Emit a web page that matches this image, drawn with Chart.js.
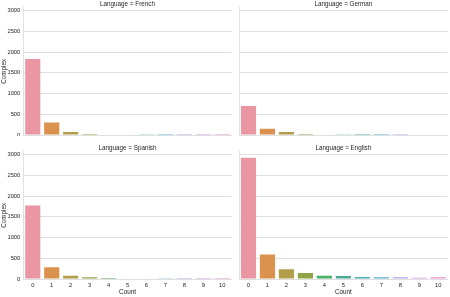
<!DOCTYPE html>
<html lang="en">
<head>
    <meta charset="UTF-8">
    <title>Complex by Count and Language</title>
    <script src="https://cdn.jsdelivr.net/npm/chart.js"></script>
    <style>
        body { margin: 0; background: #fff; }
        .panel { position: absolute; }
    </style>
</head>
<body>
    <canvas id="french" class="panel" width="232" height="136" style="left:0;top:0"></canvas>
    <canvas id="german" class="panel" width="212" height="136" style="left:238px;top:0"></canvas>
    <canvas id="spanish" class="panel" width="232" height="153" style="left:0;top:144px"></canvas>
    <canvas id="english" class="panel" width="212" height="153" style="left:238px;top:144px"></canvas>

    <script>
        // Data (Complex count per Count value)
        const counts = ['0', '1', '2', '3', '4', '5', '6', '7', '8', '9', '10'];
        const yTicks = [0, 500, 1000, 1500, 2000, 2500, 3000];
        const french = [1830, 300, 75, 25, 12, 10, 4, 2, 1, 1, 1];
        const german = [700, 150, 70, 25, 10, 4, 2, 1, 1, 0, 0];
        const spanish = [1770, 285, 80, 45, 25, 15, 10, 4, 2, 1, 1];
        const english = [2925, 590, 235, 145, 80, 70, 50, 45, 40, 30, 40];

        const textColor = '#262626';
        const lineColor = '#e0e0e0';
        const font = 'Liberation Sans, Arial, sans-serif';

        // seaborn husl palette (l=.7) desaturated to .75
        function huslToRgb(h, s, l) {
            const m = [[3.240969941904521, -1.537383177570093, -0.498610760293],
                       [-0.96924363628087, 1.87596750150772, 0.041555057407175],
                       [0.055630079696993, -0.20397695888897, 1.056971514242878]];
            const refU = 0.19783000664283, refV = 0.46831999493879;
            const kappa = 903.2962962, eps = 0.0088564516;
            const sub1 = Math.pow(l + 16, 3) / 1560896;
            const sub2 = sub1 > eps ? sub1 : l / kappa;
            const hr = h / 360 * 2 * Math.PI;
            let maxC = Infinity;
            m.forEach(([m1, m2, m3]) => {
                [0, 1].forEach(t => {
                    const top1 = (284517 * m1 - 94839 * m3) * sub2;
                    const top2 = (838422 * m3 + 769860 * m2 + 731718 * m1) * l * sub2 - 769860 * t * l;
                    const bottom = (632260 * m3 - 126452 * m2) * sub2 + 126452 * t;
                    const len = (top2 / bottom) / (Math.sin(hr) - (top1 / bottom) * Math.cos(hr));
                    if (len >= 0) maxC = Math.min(maxC, len);
                });
            });
            const c = maxC / 100 * s;
            const vu = Math.cos(hr) * c / (13 * l) + refU;
            const vv = Math.sin(hr) * c / (13 * l) + refV;
            const Y = l <= 8 ? l / kappa : Math.pow((l + 16) / 116, 3);
            const X = -(9 * Y * vu) / ((vu - 4) * vv - vu * vv);
            const Z = (9 * Y - 15 * vv * Y - vv * X) / (3 * vv);
            return m.map(r => {
                let x = r[0] * X + r[1] * Y + r[2] * Z;
                x = x <= 0.0031308 ? 12.92 * x : 1.055 * Math.pow(x, 1 / 2.4) - 0.055;
                return Math.min(1, Math.max(0, x));
            });
        }

        const barColors = counts.map((_, i) => {
            const h = ((i / counts.length + 0.01) % 1) * 359;
            const rgb = huslToRgb(h, 0.9 * 99, 0.7 * 99);
            const light = (Math.max(...rgb) + Math.min(...rgb)) / 2;
            const d = rgb.map(v => Math.round((light + (v - light) * 0.75) * 255));
            return 'rgb(' + d.join(',') + ')';
        });

        // facet title drawn over the plot area
        const panelTitle = {
            id: 'panelTitle',
            afterDraw(chart, args, opts) {
                const { ctx, chartArea } = chart;
                ctx.save();
                ctx.font = '6.3px ' + font;
                ctx.fillStyle = textColor;
                ctx.textAlign = 'center';
                ctx.textBaseline = 'middle';
                ctx.fillText(opts.text, (chartArea.left + chartArea.right) / 2, chartArea.top / 2);
                ctx.restore();
            }
        };

        function makePanel(id, language, values, leftCol, bottomRow) {
            const yWidth = leftCol ? 23.3 : 1;
            const xHeight = bottomRow ? 18 : 1;
            new Chart(document.getElementById(id), {
                type: 'bar',
                data: {
                    labels: counts,
                    datasets: [{
                        data: values,
                        backgroundColor: barColors,
                        categoryPercentage: 0.8,
                        barPercentage: 1
                    }]
                },
                plugins: [panelTitle],
                options: {
                    responsive: false,
                    animation: false,
                    layout: { padding: { top: 7.6, right: leftCol ? 0.3 : 2.3, left: 0, bottom: 0 } },
                    plugins: {
                        legend: { display: false },
                        tooltip: { enabled: false },
                        panelTitle: { text: 'Language = ' + language }
                    },
                    scales: {
                        x: {
                            grid: { display: false, drawTicks: false },
                            border: { display: true, color: lineColor },
                            ticks: {
                                display: bottomRow,
                                padding: 3,
                                color: textColor,
                                font: { family: font, size: 5.8 },
                                maxRotation: 0,
                                autoSkip: false
                            },
                            title: {
                                display: bottomRow,
                                text: 'Count',
                                color: textColor,
                                font: { family: font, size: 6.3 },
                                padding: { top: 0, bottom: 1 }
                            },
                            afterFit: scale => {
                                scale.height = xHeight;
                                scale.paddingLeft = 0;
                                scale.paddingRight = 0;
                            }
                        },
                        y: {
                            min: 0,
                            max: 3071,
                            grid: { color: lineColor, drawTicks: false },
                            border: { display: true, color: lineColor },
                            ticks: {
                                display: leftCol,
                                padding: 3,
                                color: textColor,
                                font: { family: font, size: 5.8 },
                                callback: v => String(v)
                            },
                            title: {
                                display: leftCol,
                                text: 'Complex',
                                color: textColor,
                                font: { family: font, size: 6.3 },
                                padding: { top: 0, bottom: 0 }
                            },
                            afterBuildTicks: scale => { scale.ticks = yTicks.map(v => ({ value: v })); },
                            afterFit: scale => {
                                scale.width = yWidth;
                                scale.paddingTop = 0;
                                scale.paddingBottom = 0;
                            }
                        }
                    }
                }
            });
        }

        makePanel('french', 'French', french, true, false);
        makePanel('german', 'German', german, false, false);
        makePanel('spanish', 'Spanish', spanish, true, true);
        makePanel('english', 'English', english, false, true);
    </script>
</body>
</html>
